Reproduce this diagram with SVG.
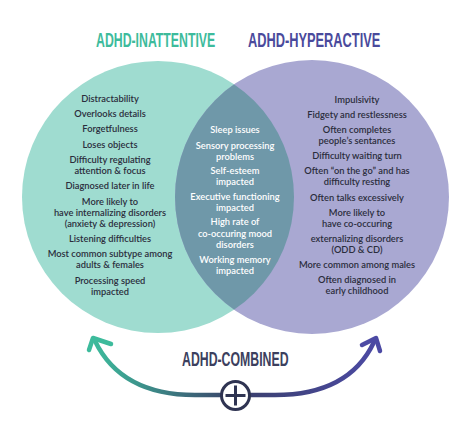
<svg xmlns="http://www.w3.org/2000/svg" width="474" height="431" viewBox="0 0 474 431">
<defs>
<style>
.title{font-family:"Liberation Sans",Arial,sans-serif;font-weight:bold;font-size:20.5px;}
.t{font-family:Lato,"Open Sans",sans-serif;font-weight:600;font-size:9.3px;fill:#2b2d3c;text-anchor:middle;}
.w{fill:#ffffff;}
</style>
<linearGradient id="gl" x1="93" y1="0" x2="221" y2="0" gradientUnits="userSpaceOnUse">
<stop offset="0" stop-color="#3dbb9c"/><stop offset="1" stop-color="#3b4e6e"/>
</linearGradient>
<linearGradient id="gr" x1="249" y1="0" x2="378" y2="0" gradientUnits="userSpaceOnUse">
<stop offset="0" stop-color="#3b4070"/><stop offset="1" stop-color="#4c4aa4"/>
</linearGradient>
<clipPath id="cl"><circle cx="158" cy="197" r="136"/></clipPath>
</defs>
<rect width="474" height="431" fill="#ffffff"/>
<g id="title-inattentive"><text class="title" transform="translate(96 47) scale(0.6 1)" fill="#3dbb9c">ADHD-INATTENTIVE</text></g>
<g id="title-hyperactive"><text class="title" transform="translate(248 47) scale(0.625 1)" fill="#4a4a9c">ADHD-HYPERACTIVE</text></g>
<g id="circle-inattentive"><circle cx="158" cy="197" r="136" fill="#9fdcd0"/></g>
<g id="circle-hyperactive"><circle cx="312" cy="197" r="137" fill="#a9a8d2"/></g>
<g id="overlap"><circle cx="312" cy="197" r="137" fill="#6f98a9" clip-path="url(#cl)"/></g>
<g id="list-inattentive">
<text class="t" x="110" y="101.5">Distractability</text>
<text class="t" x="110" y="116.5">Overlooks details</text>
<text class="t" x="110" y="132">Forgetfulness</text>
<text class="t" x="110" y="147.5">Loses objects</text>
<text class="t" x="110" y="163">Difficulty regulating</text>
<text class="t" x="110" y="174">attention &amp; focus</text>
<text class="t" x="110" y="189">Diagnosed later in life</text>
<text class="t" x="110" y="204.5">More likely to</text>
<text class="t" x="110" y="215.5">have internalizing disorders</text>
<text class="t" x="110" y="226.5">(anxiety &amp; depression)</text>
<text class="t" x="110" y="241.5">Listening difficulties</text>
<text class="t" x="110" y="256.5">Most common subtype among</text>
<text class="t" x="110" y="268">adults &amp; females</text>
<text class="t" x="110" y="283.5">Processing speed</text>
<text class="t" x="110" y="294.5">impacted</text>
</g>
<g id="list-combined">
<text class="t w" x="235" y="132.5">Sleep issues</text>
<text class="t w" x="235" y="148.5">Sensory processing</text>
<text class="t w" x="235" y="159.5">problems</text>
<text class="t w" x="235" y="173.5">Self-esteem</text>
<text class="t w" x="235" y="184.5">impacted</text>
<text class="t w" x="235" y="199.5">Executive functioning</text>
<text class="t w" x="235" y="210.5">impacted</text>
<text class="t w" x="235" y="225">High rate of</text>
<text class="t w" x="235" y="236.5">co-occuring mood</text>
<text class="t w" x="235" y="247.5">disorders</text>
<text class="t w" x="235" y="262.5">Working memory</text>
<text class="t w" x="235" y="273.5">impacted</text>
</g>
<g id="list-hyperactive">
<text class="t" x="357" y="102.5">Impulsivity</text>
<text class="t" x="357" y="117.5">Fidgety and restlessness</text>
<text class="t" x="357" y="132.5">Often completes</text>
<text class="t" x="357" y="143.5">people’s sentances</text>
<text class="t" x="357" y="158.5">Difficulty waiting turn</text>
<text class="t" x="357" y="173.5">Often “on the go” and has</text>
<text class="t" x="357" y="184.5">difficulty resting</text>
<text class="t" x="357" y="200.5">Often talks excessively</text>
<text class="t" x="357" y="215.5">More likely to</text>
<text class="t" x="357" y="226.5">have co-occuring</text>
<text class="t" x="357" y="241.5">externalizing disorders</text>
<text class="t" x="357" y="252.5">(ODD &amp; CD)</text>
<text class="t" x="357" y="267.5">More common among males</text>
<text class="t" x="357" y="282.5">Often diagnosed in</text>
<text class="t" x="357" y="293.5">early childhood</text>
</g>
<g id="connectors" fill="none" stroke-width="4.5" stroke-linecap="round" stroke-linejoin="round">
<path d="M95 341 C112 376 145 395 195 395 L221 395" stroke="url(#gl)"/>
<polyline points="111,344 93,338 89,350" stroke="#3dbb9c"/>
<path d="M374 342 C358 376 326 395 275 395 L249 395" stroke="url(#gr)"/>
<polyline points="362,345 376,338 380,351" stroke="#4c4aa4"/>
</g>
<g id="combined">
<text class="title" transform="translate(182 366) scale(0.6 1)" fill="#3c3f5e">ADHD-COMBINED</text>
<circle cx="235.5" cy="395.5" r="14" fill="#ffffff" stroke="#2f3452" stroke-width="3"/>
<path d="M225.5 395.5 H245.5 M235.5 385.5 V405.5" stroke="#2f3452" stroke-width="3" fill="none"/>
</g>
</svg>
